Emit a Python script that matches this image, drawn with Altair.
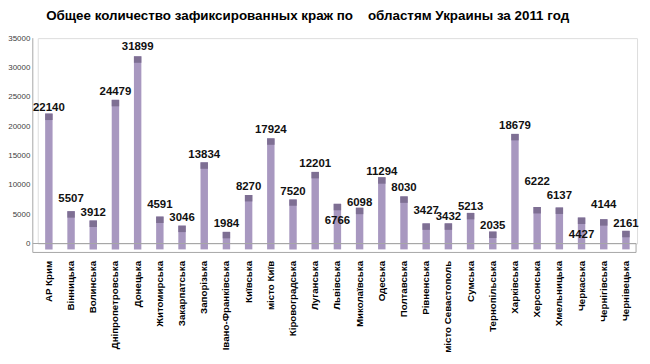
import altair as alt
import pandas as pd

regions = ["АР Крим", "Вінницька", "Волинська", "Дніпропетровська", "Донецька",
           "Житомирська", "Закарпатська", "Запорізька", "Івано-Франківська", "Київська",
           "місто Київ", "Кіровоградська", "Луганська", "Львівська", "Миколаївська",
           "Одеська", "Полтавська", "Рівненська", "місто Севастополь", "Сумська",
           "Тернопільська", "Харківська", "Херсонська", "Хмельницька", "Черкаська",
           "Чернігівська", "Чернівецька"]
thefts = [22140, 5507, 3912, 24479, 31899, 4591, 3046, 13834, 1984, 8270,
          17924, 7520, 12201, 6766, 6098, 11294, 8030, 3427, 3432, 5213,
          2035, 18679, 6222, 6137, 4427, 4144, 2161]
# label placement (pixels above the bar top, negative = below)
label_lift = [6, 12, 8, 7.5, 9, 12, 7.7, 7, 8, 8.5, 8, 7, 8, -17, 4.7, 5, 8.5, 12, 6.4, 6,
              6, 7.5, 25.5, 11.7, -18, 14.5, 7]
y_ticks = [0, 5000, 10000, 15000, 20000, 25000, 30000, 35000]

TITLE = "Общее количество зафиксированных краж по\u00a0\u00a0\u00a0 областям Украины за 2011 год"

FONT = "Liberation Sans"
Y_MAX = 35000
PLOT_W = 604
PLOT_H = 207
BASE = -1000
CAP = 1100

df = pd.DataFrame({"region": regions, "value": thefts, "lift": label_lift})
df["base"] = BASE
df["cap_lo"] = df["value"] - CAP
df["label_y"] = df["value"] + df["lift"] * Y_MAX / PLOT_H

one = pd.DataFrame({"t": [TITLE]})

x_axis = alt.Axis(title=None, labelAngle=-90, labelFont=FONT, labelFontSize=9.8,
                  labelFontWeight="bold", labelColor="#000000", labelPadding=17,
                  domain=False, ticks=False, labelLimit=0, grid=False)
y_axis = alt.Axis(title=None, values=y_ticks, format="d", grid=False, domain=False,
                  ticks=False, labelPadding=8, labelFont=FONT, labelFontSize=8,
                  labelColor="#404040", labelFlush=False)
x_scale = alt.Scale(paddingInner=0.665, paddingOuter=0.3325)
y_scale = alt.Scale(domain=[0, Y_MAX], nice=False, zero=False)


def X():
    return alt.X("region:N", sort=None, scale=x_scale, axis=x_axis)


def Y(field):
    return alt.Y(field, type="quantitative", scale=y_scale, axis=y_axis)


floor_col = "#A6A6A6"
deco = alt.Chart(one)
axis_line = deco.mark_rule(color=floor_col, strokeWidth=1).encode(
    x=alt.value(-5), y=alt.value(0), y2=alt.value(216))
floor_top = deco.mark_rule(color=floor_col, strokeWidth=1).encode(
    x=alt.value(-5), x2=alt.value(603), y=alt.value(PLOT_H))
floor_bot = deco.mark_rule(color=floor_col, strokeWidth=1).encode(
    x=alt.value(-5), x2=alt.value(603), y=alt.value(216))
floor_right = deco.mark_rule(color=floor_col, strokeWidth=1).encode(
    x=alt.value(603), y=alt.value(PLOT_H), y2=alt.value(216))

base = alt.Chart(df)
body = base.mark_bar(color="#A898C0").encode(x=X(), y=Y("base"), y2="value:Q")
cap = base.mark_bar(color="#7E6F93").encode(x=X(), y=Y("cap_lo"), y2="value:Q")
labels = base.mark_text(font=FONT, fontSize=11.5, fontWeight="bold", color="#111111",
                        baseline="middle", align="center").encode(
    x=X(), y=Y("label_y"), text=alt.Text("value:Q", format="d"))
title = deco.mark_text(font=FONT, fontSize=13.5, fontWeight="bold", color="#000000",
                       baseline="alphabetic", align="center").encode(
    x=alt.value(272), y=alt.value(-18.5), text="t:N")

chart = alt.layer(body, axis_line, floor_top, floor_bot, floor_right, cap, labels, title).properties(
    width=PLOT_W, height=PLOT_H,
    autosize=alt.AutoSizeParams(type="none"),
    padding={"left": 30, "top": 29, "right": 5, "bottom": 112},
).configure_view(stroke=None).configure(background="white")

chart.save("out.html", embed_options={"renderer": "svg", "actions": False})
